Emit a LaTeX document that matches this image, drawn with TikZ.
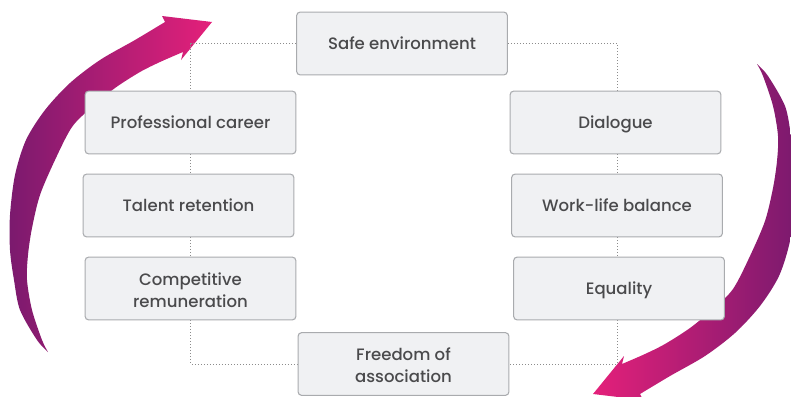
\documentclass[tikz,border=0pt]{standalone}
\usepackage{fontspec}
\setmainfont{Poppins}[UprightFont={* Medium}]
\usetikzlibrary{backgrounds}
\definecolor{apurple}{HTML}{7B1A6E}
\definecolor{apink}{HTML}{E4207A}
\definecolor{boxfill}{HTML}{F0F1F3}
\definecolor{boxline}{HTML}{A9ABAE}
\definecolor{txt}{HTML}{4A4A4C}
\definecolor{dotc}{HTML}{8C8C8C}
\begin{document}
\begin{tikzpicture}[x=0.75pt,y=-0.75pt,
  box/.style={draw=boxline, line width=0.8pt, fill=boxfill, rounded corners=2.5pt,
    minimum width=158pt, minimum height=47pt, inner sep=0pt, text=txt,
    font=\fontsize{12.4}{16.3}\selectfont, align=center},
  one/.style={text height=8.8pt, text depth=0pt},
  two/.style={text height=27.8pt, text depth=0pt},
  dots/.style={dotc, line width=0.75pt, dash pattern=on 0.75pt off 1.5pt}]
\useasboundingbox (0,0) rectangle (791,396);
\node[box,one] (safe) at (402,43.5) {Safe environment};
\node[box,one] (prof) at (190.5,122.5) {Professional career};
\node[box,one] (talent) at (188.5,205.5) {Talent retention};
\node[box,two] (comp) at (190.5,288.5) {Competitive\\remuneration};
\node[box,one] (dia) at (615.5,122.5) {Dialogue};
\node[box,one] (work) at (617,205.5) {Work-life balance};
\node[box,one] (eq) at (619,288.5) {Equality};
\node[box,two] (free) at (403.5,364) {Freedom of\\association};
\begin{pgfonlayer}{background}
% left arrow
\shade[left color=apurple, middle color=apurple, right color=apink]
  plot[smooth] coordinates {(48,352) (37,340) (20,310) (14,280) (10,250) (10,215) (15,175) (26,140) (45,110) (70,83) (100,60) (135,40) (165,22)}
  -- (162,16) -- (212,22) -- (181,60)
  -- plot[smooth] coordinates {(183,52) (160,62) (140,72) (115,88) (92,107) (72,127) (55,160) (40,195) (32,228) (28,255) (27,280) (32,310) (42,340) (48,352)}
  -- cycle;
% right arrow
\shade[left color=apink, middle color=apurple, right color=apurple]
  plot[smooth] coordinates {(757,64) (768,76) (785,106) (791,136) (795,166) (795,201) (790,241) (779,276) (760,306) (735,333) (705,356) (670,376) (640,394)}
  -- (643,400) -- (593,394) -- (624,356)
  -- plot[smooth] coordinates {(622,364) (645,354) (665,344) (690,328) (713,309) (733,289) (750,256) (765,221) (773,188) (777,161) (778,136) (773,106) (763,76) (757,64)}
  -- cycle;
% dotted connectors
\draw[dots] (safe.west) -| (prof.north);
\draw[dots] (prof.south) -- (talent.north -| prof.south);
\draw[dots] (talent.south -| prof.south) -- (comp.north);
\draw[dots] (comp.south) |- (free.west);
\draw[dots] (safe.east) -| (dia.north -| work.north);
\draw[dots] (dia.south -| work.north) -- (work.north);
\draw[dots] (work.south) -- (eq.north -| work.south);
\draw[dots] (eq.south -| work.south) |- (free.east);
\end{pgfonlayer}
\end{tikzpicture}
\end{document}
